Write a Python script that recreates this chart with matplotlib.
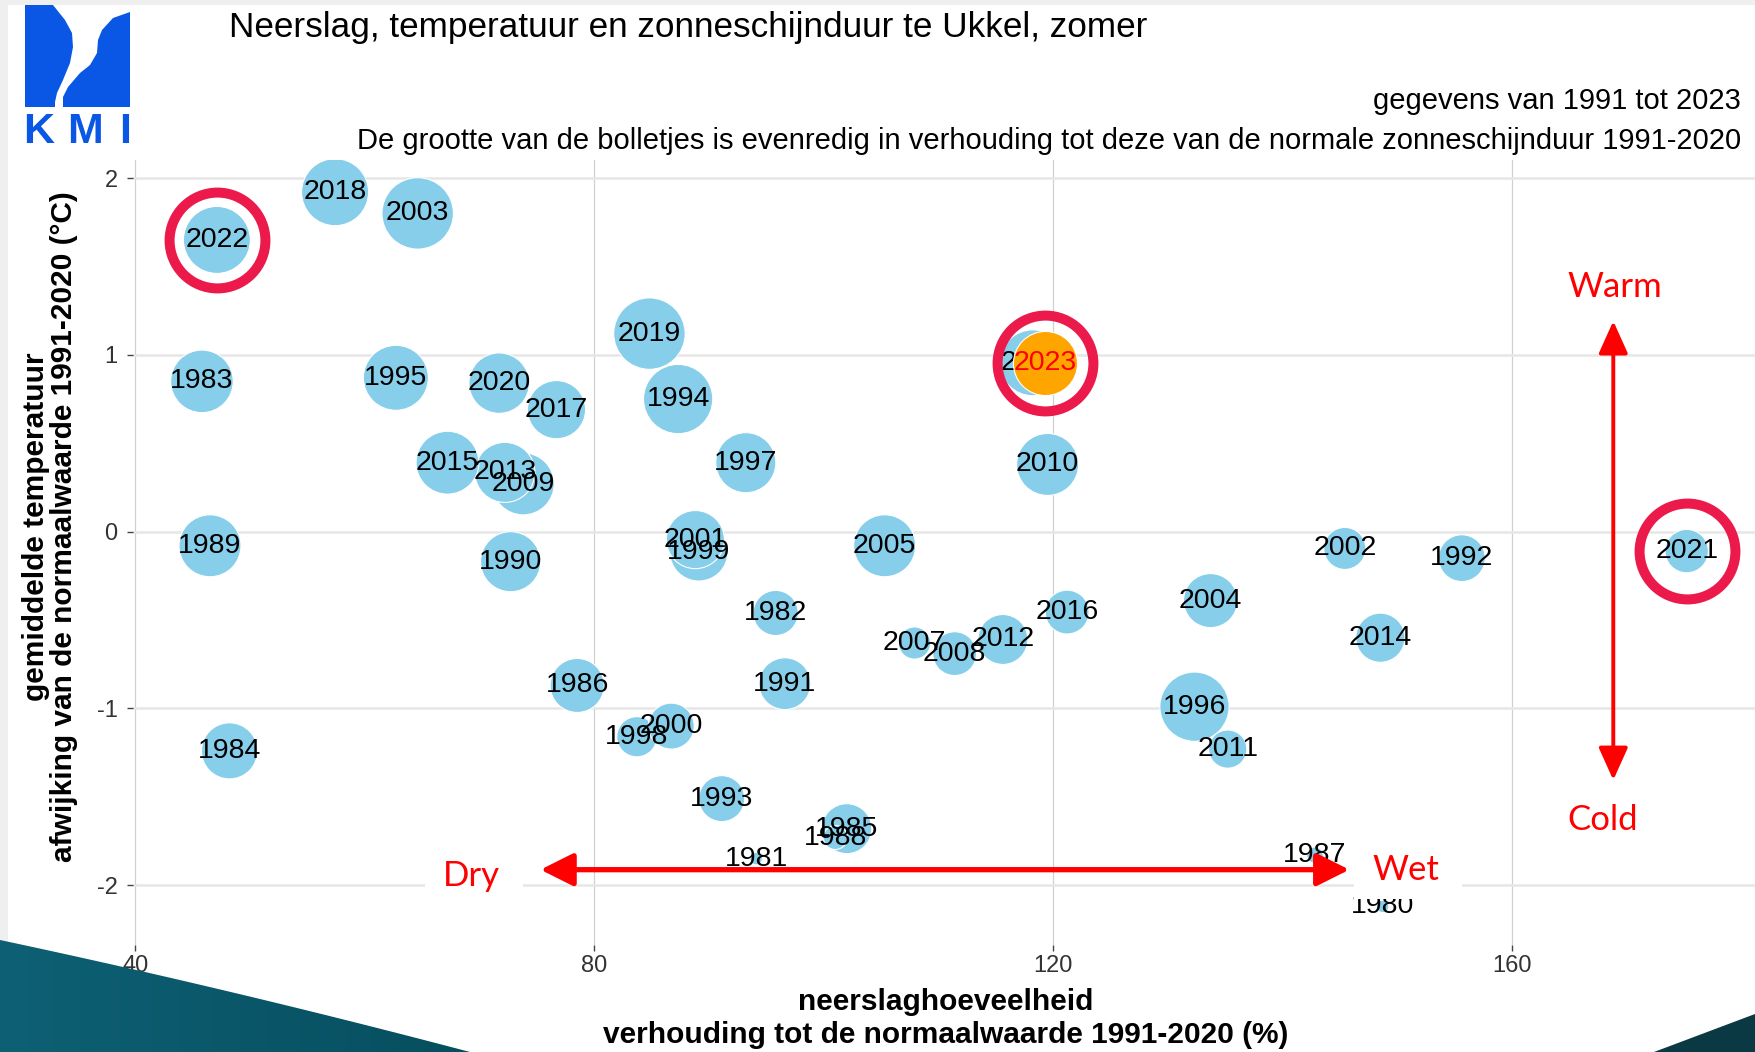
import numpy as np
import matplotlib.pyplot as plt
from matplotlib.patches import Polygon, Rectangle, FancyArrowPatch

# jaar, neerslag (% van normaal), temperatuurafwijking (°C), zonneschijnduur (% van normaal)
jaren = [1980, 1981, 1982, 1983, 1984, 1985, 1986, 1987, 1988, 1989,
         1990, 1991, 1992, 1993, 1994, 1995, 1996, 1997, 1998, 1999,
         2000, 2001, 2002, 2003, 2004, 2005, 2006, 2007, 2008, 2009,
         2010, 2011, 2012, 2013, 2014, 2015, 2016, 2017, 2018, 2019,
         2020, 2021, 2022, 2023]
neerslag = [148.7, 94.1, 95.8, 45.8, 48.2, 102.0, 78.5, 142.8, 101.0, 46.5,
            72.7, 96.6, 155.6, 91.1, 87.3, 62.7, 132.3, 93.2, 83.7, 89.1,
            86.7, 88.8, 145.4, 64.6, 133.7, 105.3, 118.2, 107.9, 111.4, 73.8,
            119.5, 135.2, 115.6, 72.2, 148.5, 67.2, 121.2, 76.7, 57.4, 84.8,
            71.7, 175.2, 47.1, 119.3]
temperatuur = [-2.12, -1.85, -0.46, 0.85, -1.24, -1.68, -0.87, -1.83, -1.73, -0.08,
               -0.17, -0.86, -0.15, -1.51, 0.75, 0.87, -0.99, 0.39, -1.16, -0.115,
               -1.10, -0.045, -0.095, 1.80, -0.39, -0.08, 0.955, -0.63, -0.69, 0.27,
               0.38, -1.23, -0.61, 0.335, -0.60, 0.39, -0.455, 0.69, 1.92, 1.12,
               0.84, -0.11, 1.65, 0.955]
zon = [4, 4, 53, 102, 82, 65, 76, 7, 15, 100,
       94, 70, 57, 55, 125, 110, 125, 94, 42, 88,
       55, 88, 46, 133, 76, 100, 113, 27, 50, 100,
       100, 38, 65, 94, 63, 103, 50, 88, 117, 133,
       95, 49, 117, 107]

x_ticks = [40, 80, 120, 160]
y_ticks = [-2, -1, 0, 1, 2]
huidig_jaar = 2023
omcirkeld = [2021, 2022, 2023]

W, H = 1755, 1052
plt.rcParams['font.family'] = ['Liberation Sans', 'DejaVu Sans']
plt.rcParams['axes.unicode_minus'] = False
fig = plt.figure(figsize=(W / 100, H / 100), dpi=100)
fig.patch.set_facecolor('white')

ax = fig.add_axes([133 / W, 1 - 945 / H, 1 - 133 / W, (945 - 160) / H])
ax.set_xlim(39.79, 181.15)
ax.set_ylim(-2.338, 2.102)
for s in ax.spines.values():
    s.set_visible(False)
ax.set_xticks(x_ticks)
ax.set_yticks(y_ticks)
ax.tick_params(axis='both', length=4, width=1, color='#444444', labelsize=17, labelcolor='#333333')
ax.tick_params(axis='x', pad=3)
ax.tick_params(axis='y', pad=7)
ax.set_axisbelow(True)
ax.grid(axis='x', color='#D0D0D0', lw=0.9)
ax.grid(axis='y', color='#E6E6E6', lw=1.8)

# bolletjes, oplopend per jaar; huidig jaar apart in oranje, boven de andere labels
oud = [i for i, j in enumerate(jaren) if j != huidig_jaar]
nu = jaren.index(huidig_jaar)
grootte = 19.9  # pt^2 per % zonneschijn
ax.scatter([neerslag[i] for i in oud], [temperatuur[i] for i in oud],
           s=[zon[i] * grootte for i in oud], c='#87CEEB', edgecolors='white',
           linewidths=0.8, zorder=3)
for i in oud:
    ax.text(neerslag[i], temperatuur[i], str(jaren[i]), ha='center', va='center',
            fontsize=20.5, color='black', zorder=5)

ax.scatter([neerslag[nu]], [temperatuur[nu]], s=[zon[nu] * grootte], c='#FFA500',
           edgecolors='white', linewidths=0.8, zorder=5.5)
ax.text(neerslag[nu], temperatuur[nu], str(huidig_jaar), ha='center', va='center',
        fontsize=20.5, color='red', zorder=6)

for j in omcirkeld:
    i = jaren.index(j)
    ax.plot(neerslag[i], temperatuur[i], 'o', ms=69, mfc='none', mec='#EC1A4B',
            mew=7.2, zorder=7, clip_on=False)

# pijlen en uitleg
pijl_v = FancyArrowPatch((168.8, -1.405), (168.8, 1.191),
                         arrowstyle='<|-|>,head_length=1.0,head_width=0.45',
                         mutation_scale=20, color='red', lw=2.8, shrinkA=0, shrinkB=0, zorder=8)
pijl_h = FancyArrowPatch((75.3, -1.912), (145.8, -1.912),
                         arrowstyle='<|-|>,head_length=1.0,head_width=0.5',
                         mutation_scale=20, color='red', lw=3.8, shrinkA=0, shrinkB=0, zorder=8)
ax.add_patch(pijl_v)
ax.add_patch(pijl_h)
# witte vlakjes achter Dry en Wet
ax.add_patch(Rectangle((65.24, -2.078), 73.78 - 65.24, 0.334, color='white', lw=0, zorder=5.8))
ax.add_patch(Rectangle((146.21, -2.078), 155.63 - 146.21, 0.334, color='white', lw=0, zorder=5.8))
rood = dict(color='red', fontsize=25, family=['Lato', 'DejaVu Sans'], ha='center', va='center', zorder=9)
ax.text(168.96, 1.383, 'Warm', **rood)
ax.text(167.9, -1.631, 'Cold', **rood)
ax.text(69.25, -1.948, 'Dry', **rood)
ax.text(150.75, -1.914, 'Wet', **rood)

# titels
fig.text(229 / W, 1 - 27 / H, 'Neerslag, temperatuur en zonneschijnduur te Ukkel, zomer',
         fontsize=25.3, ha='left', va='center')
fig.text(1741 / W, 1 - 101 / H, 'gegevens van 1991 tot 2023', fontsize=21, ha='right', va='center')
fig.text(1741 / W, 1 - 141 / H,
         'De grootte van de bolletjes is evenredig in verhouding tot deze van de normale zonneschijnduur 1991-2020',
         fontsize=21, ha='right', va='center')
fig.text(36 / W, 1 - 527 / H, 'gemiddelde temperatuur', rotation=90, fontsize=21.5,
         fontweight='bold', ha='center', va='center')
fig.text(64 / W, 1 - 527 / H, 'afwijking van de normaalwaarde 1991-2020 (°C)', rotation=90,
         fontsize=21.5, fontweight='bold', ha='center', va='center')
fig.text(946 / W, 1 - 1002 / H, 'neerslaghoeveelheid', fontsize=21.5, fontweight='bold',
         ha='center', va='center')
fig.text(946 / W, 1 - 1035 / H, 'verhouding tot de normaalwaarde 1991-2020 (%)', fontsize=21.5,
         fontweight='bold', ha='center', va='center')

# decoratie: rand, logo en dia-vormen
ov = fig.add_axes([0, 0, 1, 1], zorder=10)
ov.set_xlim(0, W)
ov.set_ylim(H, 0)
ov.axis('off')
ov.patch.set_alpha(0)
ov.add_patch(Rectangle((0, 0), W, 5, color='#EFEFEF', lw=0))
ov.add_patch(Rectangle((0, 0), 8, 945, color='#EFEFEF', lw=0))

blauw = '#0A57E6'
links = [(25, 5), (53, 5), (65, 20), (72, 33), (73, 47), (70, 63), (63, 80), (57, 93),
         (55, 102), (55, 107), (25, 107)]
rechts = [(130, 12), (130, 107), (63, 107), (63, 97), (68, 87), (80, 73), (90, 65),
          (97, 53), (98, 40), (102, 30), (113, 18)]
ov.add_patch(Polygon(links, closed=True, color=blauw, lw=0))
ov.add_patch(Polygon(rechts, closed=True, color=blauw, lw=0))
for letter, xc in [('K', 39), ('M', 85), ('I', 125)]:
    ov.text(xc, 143, letter, color=blauw, fontsize=31, fontweight='bold',
            family='Liberation Sans', ha='center', va='baseline')

t = np.linspace(0, 1, 40)
rand_x = 2 * (1 - t) * t * 235 + t ** 2 * 470
rand_y = (1 - t) ** 2 * 940 + 2 * (1 - t) * t * 990 + t ** 2 * 1052
vorm = Polygon(list(zip(rand_x, rand_y)) + [(0, 1052)], closed=True, facecolor='none', lw=0)
ov.add_patch(vorm)
verloop = np.linspace(0, 1, 256)[None, :, None]
kleur_a = np.array([14, 96, 116]) / 255
kleur_b = np.array([6, 78, 94]) / 255
img = kleur_a * (1 - verloop) + kleur_b * verloop
im = ov.imshow(img, extent=(0, 480, 1052, 935), aspect='auto', zorder=11)
im.set_clip_path(vorm)
ov.add_patch(Polygon([(1654, 1052), (1755, 1014), (1755, 1052)], closed=True,
                     color='#0A3944', lw=0, zorder=11))
ov.set_xlim(0, W)
ov.set_ylim(H, 0)

fig.savefig('out.png', dpi=100)
